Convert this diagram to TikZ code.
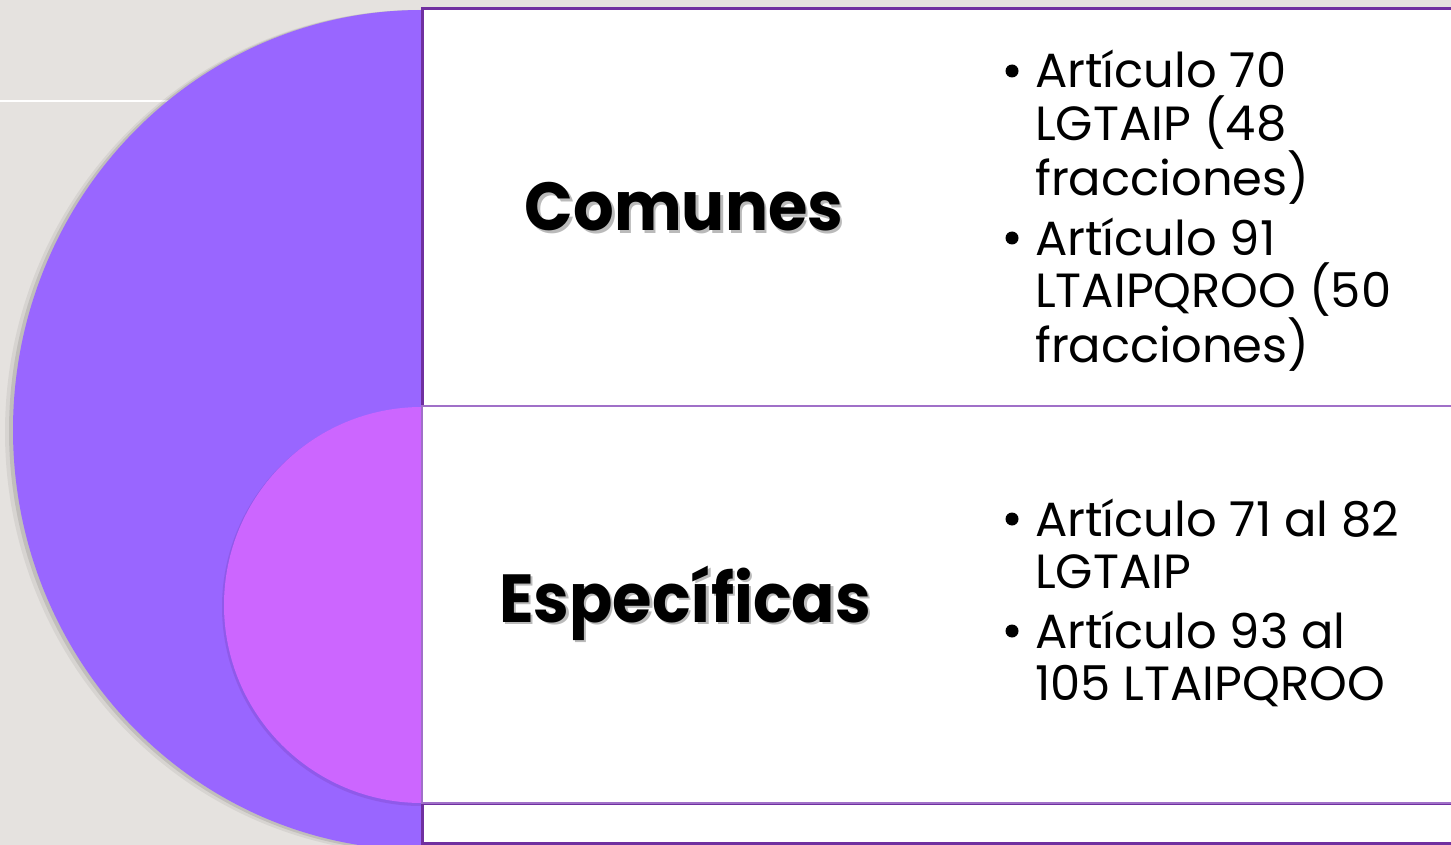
\documentclass[tikz,border=0pt]{standalone}
\usepackage{fontspec}
\newfontfamily\pop{Poppins}
\definecolor{bg}{HTML}{E5E2DF}
\definecolor{bigp}{HTML}{9966FF}
\definecolor{magp}{HTML}{CC66FF}
\definecolor{edgedark}{HTML}{7030A0}
\definecolor{edgelight}{HTML}{A070C8}
\newcommand{\ttl}[1]{\scalebox{0.94}[1]{#1}}
\newcommand{\itm}[1]{\parbox[t]{420pt}{\raggedright #1}}
\tikzset{
  title/.style={font=\pop\bfseries\fontsize{68}{74}\selectfont, text=black, inner sep=0pt},
  titleshadow/.style={title, text=black!60, opacity=0.45},
  item/.style={font=\pop\fontsize{48}{52.5}\selectfont, anchor=base west, inner sep=0pt, text=black},
  dot/.style={circle, fill=black, inner sep=0pt, minimum size=13pt},
  panel/.style={fill=white}
}
\begin{document}
\begin{tikzpicture}[x=1pt,y=-1pt]
\useasboundingbox (0,0) rectangle (1451,845);
\fill[bg] (0,0) rectangle (1451,845);
\draw[white, line width=2.5pt] (0,101) -- (200,101);
% big half ellipse with soft shadow
\fill[black, opacity=0.06] (418,432) ellipse [x radius=413, y radius=422];
\fill[black, opacity=0.10] (420,431) ellipse [x radius=411, y radius=421];
\fill[bigp] (422,430) ellipse [x radius=409, y radius=420];
% small half disc with shadow
\fill[edgedark, opacity=0.22] (421,607) circle (199);
\fill[magp] (422,605) circle (198);
% panels
\draw[panel, draw=edgedark, line width=3pt] (422,9) rectangle (1470,406);
\draw[panel, draw=edgedark, line width=3pt] (422,803) rectangle (1470,843);
\draw[panel, draw=edgelight, line width=2pt] (422,406) rectangle (1470,803);
% titles
\node[titleshadow] (s1) at (686.5,209.5) {\ttl{Comunes}};
\node[title] (t1) at (684,207) {\ttl{Comunes}};
\node[titleshadow] (s2) at (687.5,605.5) {\ttl{Específicas}};
\node[title] (t2) at (685,603) {\ttl{Específicas}};
% bullets
\node[dot] (b1) at (1012,71) {};
\node[item] (i1) at (1035,88) {\itm{Artículo 70\\LGTAIP (48\\fracciones)}};
\node[dot] (b2) at (1012,238) {};
\node[item] (i2) at (1035,255) {\itm{Artículo 91\\LTAIPQROO (50\\fracciones)}};
\node[dot] (b3) at (1012,519) {};
\node[item] (i3) at (1035,536) {\itm{Artículo 71 al 82\\LGTAIP}};
\node[dot] (b4) at (1012,631) {};
\node[item] (i4) at (1035,648) {\itm{Artículo 93 al\\105 LTAIPQROO}};
\end{tikzpicture}
\end{document}
